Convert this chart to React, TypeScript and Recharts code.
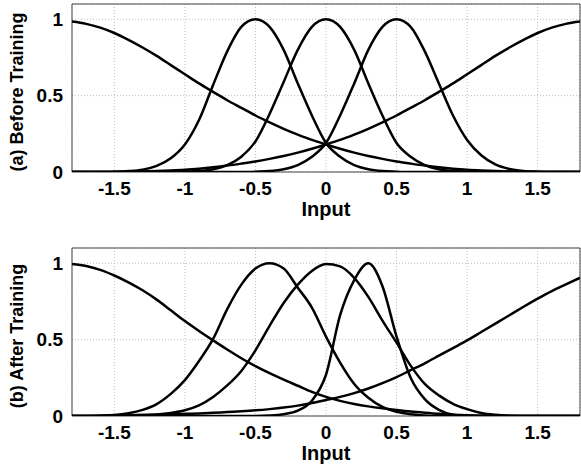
import { LineChart, Line, XAxis, YAxis, CartesianGrid, ReferenceArea } from 'recharts';

const inputs = [
  -1.8, -1.7, -1.6, -1.5, -1.4, -1.3, -1.2, -1.1, -1.0, -0.9, -0.8, -0.7, -0.6, -0.5, -0.4, -0.3, -0.2, -0.1,
  0, 0.1, 0.2, 0.3, 0.4, 0.5, 0.6, 0.7, 0.8, 0.9, 1.0, 1.1, 1.2, 1.3, 1.4, 1.5, 1.6, 1.7, 1.8,
];
const xTicks = [-1.5, -1, -0.5, 0, 0.5, 1, 1.5];
const yTicks = [0, 0.5, 1];

// (a) membership functions before training
const beforeLow = [
  0.985, 0.97, 0.945, 0.91, 0.865, 0.815, 0.76, 0.7, 0.64, 0.58, 0.525, 0.47, 0.42, 0.37, 0.325, 0.283, 0.245, 0.21,
  0.18, 0.152, 0.127, 0.105, 0.086, 0.069, 0.055, 0.042, 0.031, 0.022, 0.015, 0.01, 0.006, 0.003, 0.001, 0, 0, 0, 0,
];
const beforeNeg = [
  0, 0, 0, 0.002, 0.006, 0.015, 0.04, 0.09, 0.18, 0.34, 0.57, 0.79, 0.95, 1.0, 0.95, 0.8, 0.58, 0.37,
  0.19, 0.1, 0.045, 0.018, 0.006, 0.002, 0, 0, 0, 0, 0, 0, 0, 0, 0, 0, 0, 0, 0,
];
const beforeZero = [
  0, 0, 0, 0, 0, 0, 0, 0, 0.002, 0.006, 0.018, 0.045, 0.1, 0.2, 0.38, 0.59, 0.8, 0.95,
  1.0, 0.95, 0.8, 0.58, 0.37, 0.19, 0.1, 0.045, 0.018, 0.006, 0.002, 0, 0, 0, 0, 0, 0, 0, 0,
];
const beforePos = [
  0, 0, 0, 0, 0, 0, 0, 0, 0, 0, 0, 0, 0, 0.002, 0.006, 0.018, 0.045, 0.1,
  0.19, 0.37, 0.58, 0.8, 0.95, 1.0, 0.95, 0.79, 0.58, 0.37, 0.21, 0.11, 0.05, 0.02, 0.007, 0.002, 0, 0, 0,
];
const beforeHigh = [
  0, 0, 0, 0, 0.001, 0.003, 0.006, 0.01, 0.015, 0.022, 0.031, 0.042, 0.055, 0.069, 0.086, 0.105, 0.127, 0.152,
  0.18, 0.21, 0.245, 0.283, 0.325, 0.37, 0.42, 0.47, 0.525, 0.58, 0.64, 0.7, 0.76, 0.815, 0.865, 0.91, 0.945, 0.97, 0.985,
];

// (b) membership functions after training
const afterLow = [
  0.995, 0.982, 0.957, 0.92, 0.875, 0.823, 0.762, 0.692, 0.622, 0.557, 0.495, 0.435, 0.378, 0.326, 0.28, 0.238, 0.198, 0.158,
  0.125, 0.099, 0.079, 0.063, 0.05, 0.039, 0.029, 0.021, 0.014, 0.009, 0.005, 0.002, 0, 0, 0, 0, 0, 0, 0,
];
const afterNeg = [
  0, 0, 0.002, 0.006, 0.018, 0.04, 0.078, 0.145, 0.235, 0.36, 0.505, 0.7, 0.86, 0.965, 1.0, 0.965, 0.84, 0.71,
  0.52, 0.35, 0.21, 0.12, 0.06, 0.028, 0.012, 0.004, 0, 0, 0, 0, 0, 0, 0, 0, 0, 0, 0,
];
const afterZero = [
  0, 0, 0, 0.001, 0.003, 0.006, 0.01, 0.02, 0.038, 0.07, 0.125, 0.2, 0.295, 0.43, 0.59, 0.74, 0.86, 0.95,
  0.995, 0.98, 0.905, 0.78, 0.625, 0.48, 0.33, 0.21, 0.135, 0.08, 0.045, 0.02, 0.008, 0.002, 0, 0, 0, 0, 0,
];
const afterPos = [
  0, 0, 0, 0, 0, 0, 0, 0, 0, 0, 0, 0, 0, 0, 0.003, 0.012, 0.035, 0.1,
  0.27, 0.66, 0.89, 1.0, 0.85, 0.52, 0.25, 0.11, 0.04, 0.008, 0, 0, 0, 0, 0, 0, 0, 0, 0,
];
const afterHigh = [
  0, 0, 0.001, 0.003, 0.005, 0.007, 0.009, 0.011, 0.014, 0.017, 0.021, 0.026, 0.031, 0.037, 0.045, 0.055, 0.068, 0.085,
  0.105, 0.125, 0.15, 0.18, 0.215, 0.255, 0.3, 0.345, 0.395, 0.445, 0.495, 0.55, 0.605, 0.66, 0.715, 0.768, 0.818, 0.862, 0.905,
];

const FONT = '"Liberation Sans", Arial, Helvetica, sans-serif';
const tickStyle = { fill: '#000', fontSize: 19, fontWeight: 700, fontFamily: FONT };

function buildRows(series: number[][]) {
  return inputs.map((x, i) => {
    const row: Record<string, number> = { x };
    series.forEach((s, k) => {
      row['mf' + k] = s[i];
    });
    return row;
  });
}

function SideTitle(props: any) {
  const vb = props.viewBox || { x: 0, y: 4, height: 168 };
  return (
    <text
      transform={`translate(${vb.x + 23},${vb.y + vb.height / 2 + 4}) rotate(-90)`}
      textAnchor="middle"
      fill="#000"
      fontSize={18}
      fontWeight={700}
      fontFamily={FONT}
    >
      {props.text}
    </text>
  );
}

function MfPanel({
  title,
  series,
  height,
  axisHeight,
  inputOffset,
}: {
  title: string;
  series: number[][];
  height: number;
  axisHeight: number;
  inputOffset: number;
}) {
  const rows = buildRows(series);
  return (
    <LineChart width={581} height={height} data={rows} margin={{ top: 4, right: 1, bottom: 0, left: 0 }}>
      <CartesianGrid stroke="#bdbdbd" strokeDasharray="1 2" />
      <XAxis
        dataKey="x"
        type="number"
        domain={[-1.8, 1.8]}
        ticks={xTicks}
        interval={0}
        allowDataOverflow
        height={axisHeight}
        axisLine={false}
        tickLine={false}
        tickSize={6}
        tickMargin={4}
        tick={tickStyle}
        label={{
          value: 'Input',
          position: 'insideBottom',
          offset: inputOffset,
          style: { fill: '#000', fontSize: 20, fontWeight: 700, fontFamily: FONT },
        }}
      />
      <YAxis
        type="number"
        domain={[0, 1.1]}
        ticks={yTicks}
        allowDataOverflow
        width={72}
        axisLine={false}
        tickLine={false}
        tickSize={6}
        tickMargin={3}
        tick={tickStyle}
        label={{ content: (p: any) => <SideTitle {...p} text={title} /> }}
      />
      <ReferenceArea x1={-1.8} x2={1.8} y1={0} y2={1.1} fill="none" stroke="#444" strokeWidth={1} ifOverflow="visible" />
      {series.map((_, k) => (
        <Line
          key={k}
          dataKey={'mf' + k}
          type="monotone"
          stroke="#000"
          strokeWidth={2.5}
          dot={false}
          activeDot={false}
          isAnimationActive={false}
        />
      ))}
    </LineChart>
  );
}

export default function App() {
  return (
    <div
      style={{
        position: 'absolute',
        left: 0,
        top: 0,
        width: 581,
        height: 465,
        overflow: 'hidden',
        background: '#fff',
      }}
    >
      <div style={{ position: 'absolute', left: 0, top: 0 }}>
        <MfPanel
          title="(a) Before Training"
          series={[beforeLow, beforeNeg, beforeZero, beforePos, beforeHigh]}
          height={225}
          axisHeight={53}
          inputOffset={9}
        />
      </div>
      <div style={{ position: 'absolute', left: 0, top: 244 }}>
        <MfPanel
          title="(b) After Training"
          series={[afterLow, afterNeg, afterZero, afterPos, afterHigh]}
          height={221}
          axisHeight={49}
          inputOffset={5}
        />
      </div>
    </div>
  );
}
